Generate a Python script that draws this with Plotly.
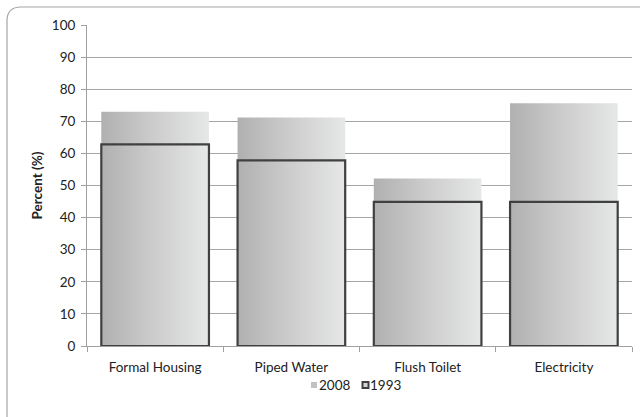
import plotly.graph_objects as go

# Household access to basic services, share of households (%)
categories = ["Formal Housing", "Piped Water", "Flush Toilet", "Electricity"]
values_2008 = [73.0, 71.2, 52.2, 75.6]
values_1993 = [62.8, 57.8, 44.9, 44.9]
series_names = ["2008", "1993"]
y_ticks = [0, 10, 20, 30, 40, 50, 60, 70, 80, 90, 100]

BAR_WIDTH = 0.79
GRAD = [[0.0, "#b0b0b0"], [0.5, "#cdcdcd"], [1.0, "#e6e7e7"]]
OUTLINE = "#404040"
FONT = "Lato, Open Sans, sans-serif"
FS = 13.5

# plot-area size in pixels, used to place paper-space decorations
PX_W, PX_H = 545, 321

fig = go.Figure()


def add_bars(values, outlined):
    for i, v in enumerate(values):
        x0, x1 = i - BAR_WIDTH / 2, i + BAR_WIDTH / 2
        fig.add_trace(go.Scatter(
            x=[x0, x0, x1, x1, x0],
            y=[0, v, v, 0, 0],
            mode="lines",
            fill="toself",
            fillgradient=dict(type="horizontal", colorscale=GRAD),
            line=dict(color=OUTLINE if outlined else "rgba(0,0,0,0)",
                      width=2.2 if outlined else 0),
            hoverinfo="skip",
            showlegend=False,
        ))


add_bars(values_2008, outlined=False)
add_bars(values_1993, outlined=True)


def px_x(p):
    return (p - 87) / PX_W


def px_y(p):
    return (346 - p) / PX_H


# chart frame with rounded corner
fx0, fy1 = px_x(7), px_y(7)
fx1, fy0 = 1.08, -0.35
rx, ry = 14 / PX_W, 14 / PX_H
frame = (f"M {fx0},{fy0} L {fx0},{fy1 - ry} Q {fx0},{fy1} {fx0 + rx},{fy1} "
         f"L {fx1},{fy1} L {fx1},{fy0} Z")

shapes = [dict(type="path", path=frame, xref="paper", yref="paper",
               line=dict(color="#a6a6a6", width=1.2), layer="below")]

# legend keys below the axis
shapes.append(dict(type="rect", xref="paper", yref="paper",
                   x0=px_x(311), x1=px_x(317), y0=px_y(388), y1=px_y(382),
                   fillcolor="#c2c2c2", line=dict(width=0)))
shapes.append(dict(type="rect", xref="paper", yref="paper",
                   x0=px_x(362.5), x1=px_x(368.5), y0=px_y(388), y1=px_y(382),
                   fillcolor="#d4d4d4", line=dict(color=OUTLINE, width=2)))

annotations = [
    dict(text=series_names[0], xref="paper", yref="paper", x=px_x(316.5), y=px_y(385),
         xanchor="left", yanchor="middle", showarrow=False,
         font=dict(family=FONT, size=FS, color="#222222")),
    dict(text=series_names[1], xref="paper", yref="paper", x=px_x(368.5), y=px_y(385),
         xanchor="left", yanchor="middle", showarrow=False,
         font=dict(family=FONT, size=FS, color="#222222")),
]

fig.update_layout(
    width=640, height=417,
    margin=dict(l=87, r=8, t=25, b=71),
    paper_bgcolor="white", plot_bgcolor="white",
    font=dict(family=FONT, size=FS, color="#222222"),
    showlegend=False,
    shapes=shapes,
    annotations=annotations,
    xaxis=dict(
        range=[-0.5, len(categories) - 0.5],
        tickmode="array", tickvals=list(range(len(categories))), ticktext=categories,
        ticks="", showgrid=False, zeroline=False,
        showline=True, linecolor="#a0a0a0", linewidth=1,
        tickfont=dict(family=FONT, size=FS, color="#222222"),
        ticklabelstandoff=9,
        minor=dict(tickmode="linear", tick0=-0.5, dtick=1, ticks="outside",
                   ticklen=5, tickcolor="#a0a0a0", showgrid=False),
        fixedrange=True,
    ),
    yaxis=dict(
        range=[0, 100], tickmode="array", tickvals=y_ticks,
        showgrid=True, gridcolor="#a6a6a6", gridwidth=1, zeroline=False,
        showline=True, linecolor="#a0a0a0", linewidth=1,
        ticks="outside", ticklen=5, tickcolor="#a0a0a0",
        tickfont=dict(family=FONT, size=FS, color="#222222"),
        ticklabelstandoff=3,
        title=dict(text="<b>Percent (%)</b>", font=dict(family=FONT, size=FS),
                   standoff=6),
        fixedrange=True,
    ),
)

fig.write_html("out.html")
